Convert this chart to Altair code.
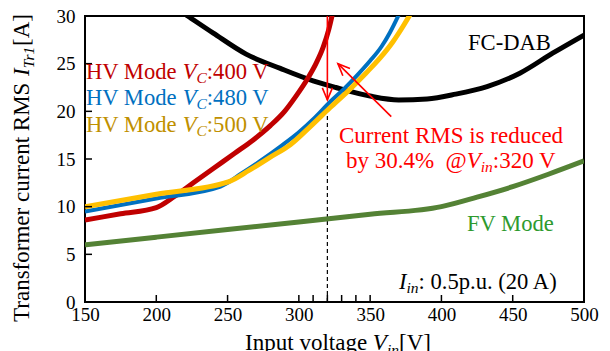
import altair as alt
import pandas as pd

# ---------------- data ----------------
fc_vin = [210, 222, 240, 263, 287, 310, 326, 350, 370, 390, 410, 432, 455, 478, 500]
fc_i = [31.2, 30.0, 28.2, 26.0, 24.5, 23.2, 22.5, 21.6, 21.2, 21.3, 21.8, 22.6, 24.0, 26.1, 28.0]

hv400_vin = [150, 175, 200, 213, 226, 240, 255, 268, 280, 290, 298, 306, 312, 317, 321, 324]
hv400_i = [8.6, 9.25, 9.9, 11.1, 12.5, 14.0, 15.6, 17.0, 18.5, 20.0, 21.6, 23.4, 25.0, 26.7, 28.6, 30.5]

hv480_vin = [150, 200, 245, 260, 275, 287, 300, 311, 322, 332, 341, 350, 358, 364, 370]
hv480_i = [9.5, 10.85, 12.1, 13.5, 15.0, 16.3, 17.8, 19.3, 21.0, 22.4, 23.8, 25.3, 26.8, 28.3, 30.1]

hv500_vin = [150, 200, 250.5, 265, 280, 294, 308, 322, 335, 347, 357, 366, 373, 379]
hv500_i = [10.0, 11.3, 12.6, 13.8, 15.2, 16.5, 18.4, 20.4, 22.2, 24.0, 25.6, 27.3, 28.9, 30.4]

fv_vin = [150, 200, 250, 300, 350, 400, 425, 450, 475, 500]
fv_i = [6.0, 6.8, 7.6, 8.4, 9.2, 10.0, 11.0, 12.1, 13.4, 14.8]

x_ticks = [150, 200, 250, 300, 350, 400, 450, 500]
x_minor = [200, 250, 300, 310, 320, 330, 340, 350, 400, 450]
y_ticks = [0, 5, 10, 15, 20, 25, 30]
y_minor = [5, 10, 15, 20, 25]

mark_vin = 320          # dashed reference line
dash_top = 20.3
arrow_top, arrow_tip = 30.0, 21.2
diag_from = (364.8, 19.44)
diag_to = (327.4, 25.0)

# ---------------- layout ----------------
W, H = 499, 286
XMIN, XMAX, YMIN, YMAX = 150, 500, 0, 30
FONT = "Liberation Serif"

RED, BLUE, YEL, YEL_T = "#C00000", "#0070C0", "#FFC000", "#BF9000"
GREEN, GREEN_T, ANN = "#548235", "#2E9A2E", "#FF0000"

xs = alt.Scale(domain=[XMIN, XMAX], nice=False, zero=False)
ys = alt.Scale(domain=[YMIN, YMAX], nice=False, zero=False)


def px2x(px):
    return XMIN + px * (XMAX - XMIN) / W


def py2y(py):
    return YMAX - py * (YMAX - YMIN) / H


REG = {' ': 250, '\u00a0': 250, 'H': 722, 'V': 722, 'M': 889, 'o': 500, 'd': 500, 'e': 444,
       ':': 278, '.': 250, '%': 833, '@': 921, 'b': 500, 'y': 500, 'C': 667, 'u': 500,
       'r': 333, 'n': 500, 't': 278, 'R': 667, 'S': 556, 'i': 278, 's': 389, 'c': 444,
       'p': 500, '(': 333, ')': 333, 'A': 722, 'F': 556, 'D': 722, 'B': 667, '-': 333,
       'I': 333, 'T': 611, 'a': 444, 'l': 278, 'v': 500, 'g': 500, 'f': 333, 'm': 778,
       '[': 333, ']': 333}
ITA = {'V': 611, 'C': 667, 'i': 278, 'n': 500, 'I': 333, 'T': 556, 'r': 389, '1': 500}


def tw(s, italic, size):
    tab = ITA if italic else REG
    return sum(tab.get(ch, REG.get(ch, 500)) for ch in s) / 1000.0 * size


def rich(pieces, x0, base, color, align="left", rotate=False):
    total = sum(tw(s, it, sz) for s, it, sz, dy in pieces)
    rows = []
    if rotate:
        adv = x0 + (total / 2 if align == "center" else 0)
        for s, it, sz, dy in pieces:
            rows.append(dict(t=s, x=px2x(base + dy), y=py2y(adv), s=sz, c=color, it=it))
            adv -= tw(s, it, sz)
    else:
        adv = x0 - (total / 2 if align == "center" else 0)
        for s, it, sz, dy in pieces:
            rows.append(dict(t=s, x=px2x(adv), y=py2y(base + dy), s=sz, c=color, it=it))
            adv += tw(s, it, sz)
    return rows


N, I_ = False, True
L, S = 22.6, 15.5
rows = []
rows += rich([("HV Mode ", N, L, 0), ("V", I_, L, 0), ("C", I_, S, 4), (":400 V", N, L, 0)],
             1.0, 62.5, RED)
rows += rich([("HV Mode ", N, L, 0), ("V", I_, L, 0), ("C", I_, S, 4), (":480 V", N, L, 0)],
             1.0, 89, BLUE)
rows += rich([("HV Mode ", N, L, 0), ("V", I_, L, 0), ("C", I_, S, 4), (":500 V", N, L, 0)],
             1.0, 115.5, YEL_T)
rows += rich([("FC-DAB", N, L, 0)], 383.0, 34, "black")
rows += rich([("FV Mode", N, L, 0)], 382.0, 215, GREEN_T)
rows += rich([("I", I_, L, 0), ("in", I_, S, 4), (": 0.5p.u. (20 A)", N, L, 0)], 314, 273, "black")
rows += rich([("Current RMS is reduced", N, 23, 0)], 366, 127.3, ANN, align="center")
rows += rich([("by 30.4%\u00a0\u00a0@", N, 23, 0), ("V", I_, 23, 0), ("in", I_, S, 4),
              (":320 V", N, 23, 0)], 366, 152, ANN, align="center")
rows += rich([("Input voltage ", N, 23, 0), ("V", I_, 23, 0), ("in", I_, S, 5), ("[V]", N, 23, 0)],
             253, 334, "black", align="center")
rot_rows = rich([("Transformer current RMS ", N, 23, 0), ("I", I_, 23, 0), ("Tr1", I_, S, 5),
                 ("[A]", N, 23, 0)], 152, -56.5, "black", align="center", rotate=True)

XE = dict(scale=xs, title=None)
YE = dict(scale=ys, title=None)


def text_layer(rr, italic, angle=0):
    df = pd.DataFrame([r for r in rr if r["it"] == italic])
    return alt.Chart(df).mark_text(
        align="left", baseline="alphabetic", font=FONT,
        fontStyle="italic" if italic else "normal", angle=angle
    ).encode(
        x=alt.X("x:Q", **XE),
        y=alt.Y("y:Q", **YE),
        text="t:N",
        color=alt.Color("c:N", scale=None),
        size=alt.Size("s:Q", scale=None),
    )


# ---------------- chart ----------------
def series(vin, cur, color, width):
    df = pd.DataFrame({"vin": vin, "cur": cur})
    return alt.Chart(df).mark_line(
        color=color, strokeWidth=width, clip=True, interpolate="monotone",
        strokeCap="butt", strokeJoin="round"
    ).encode(x=alt.X("vin:Q", **XE), y=alt.Y("cur:Q", **YE))


base = alt.Chart(pd.DataFrame({"vin": [XMIN], "cur": [YMIN]})).mark_point(opacity=0).encode(
    x=alt.X("vin:Q", scale=xs, title=None, axis=alt.Axis(values=x_ticks, format="d")),
    y=alt.Y("cur:Q", scale=ys, title=None, axis=alt.Axis(values=y_ticks, format="d")),
)

dash = alt.Chart(pd.DataFrame({"x": [mark_vin], "y": [0], "y2": [dash_top]})).mark_rule(
    color="black", strokeWidth=1.2, strokeDash=[4, 3]
).encode(x=alt.X("x:Q", **XE), y=alt.Y("y:Q", **YE), y2="y2:Q")

xt = alt.Chart(pd.DataFrame({"x": x_minor})).mark_rule(color="black", strokeWidth=1.5).encode(
    x=alt.X("x:Q", **XE), y=alt.value(H), y2=alt.value(H - 7))
yt = alt.Chart(pd.DataFrame({"y": y_minor})).mark_rule(color="black", strokeWidth=1.5).encode(
    y=alt.Y("y:Q", **YE), x=alt.value(0), x2=alt.value(7))

arrow1 = alt.Chart(pd.DataFrame({"x": [mark_vin], "y": [arrow_top], "y2": [arrow_tip]})).mark_rule(
    color=ANN, strokeWidth=1.6).encode(x=alt.X("x:Q", **XE), y=alt.Y("y:Q", **YE), y2="y2:Q")
arrow2 = alt.Chart(pd.DataFrame({"x": [diag_from[0]], "y": [diag_from[1]],
                                 "x2": [diag_to[0]], "y2": [diag_to[1]]})).mark_rule(
    color=ANN, strokeWidth=1.6).encode(
    x=alt.X("x:Q", **XE), y=alt.Y("y:Q", **YE), x2="x2:Q", y2="y2:Q")

CHEV = "M-0.42,-1L0,0L0.42,-1"
head1 = alt.Chart(pd.DataFrame({"x": [mark_vin], "y": [arrow_tip]})).mark_point(
    shape=CHEV, filled=False, color=ANN, strokeWidth=1.6, size=576, angle=0, opacity=1).encode(
    x=alt.X("x:Q", **XE), y=alt.Y("y:Q", **YE))
head2 = alt.Chart(pd.DataFrame({"x": [diag_to[0]], "y": [diag_to[1]]})).mark_point(
    shape=CHEV, filled=False, color=ANN, strokeWidth=1.6, size=576, angle=135, opacity=1).encode(
    x=alt.X("x:Q", **XE), y=alt.Y("y:Q", **YE))

chart = alt.layer(
    base,
    dash,
    series(fc_vin, fc_i, "black", 5),
    series(fv_vin, fv_i, GREEN, 5),
    series(hv400_vin, hv400_i, RED, 5),
    series(hv480_vin, hv480_i, BLUE, 4),
    series(hv500_vin, hv500_i, YEL, 5),
    arrow1, arrow2, head1, head2,
    xt, yt,
    text_layer(rows, False), text_layer(rows, True),
    text_layer(rot_rows, False, 270), text_layer(rot_rows, True, 270),
).properties(
    width=W, height=H,
    autosize=alt.AutoSizeParams(type="none"),
    padding={"left": 77, "top": 8, "right": 18, "bottom": 49},
).configure(font=FONT).configure_view(stroke="black", strokeWidth=2).configure_axis(
    ticks=False, tickSize=0, domain=False, grid=False, labelFont=FONT, labelFontSize=19,
    labelColor="black", labelFlush=False, labelOverlap=False
).configure_axisX(labelPadding=3).configure_axisY(labelPadding=10)

chart.save("out.html", embed_options={"renderer": "svg", "actions": False})
